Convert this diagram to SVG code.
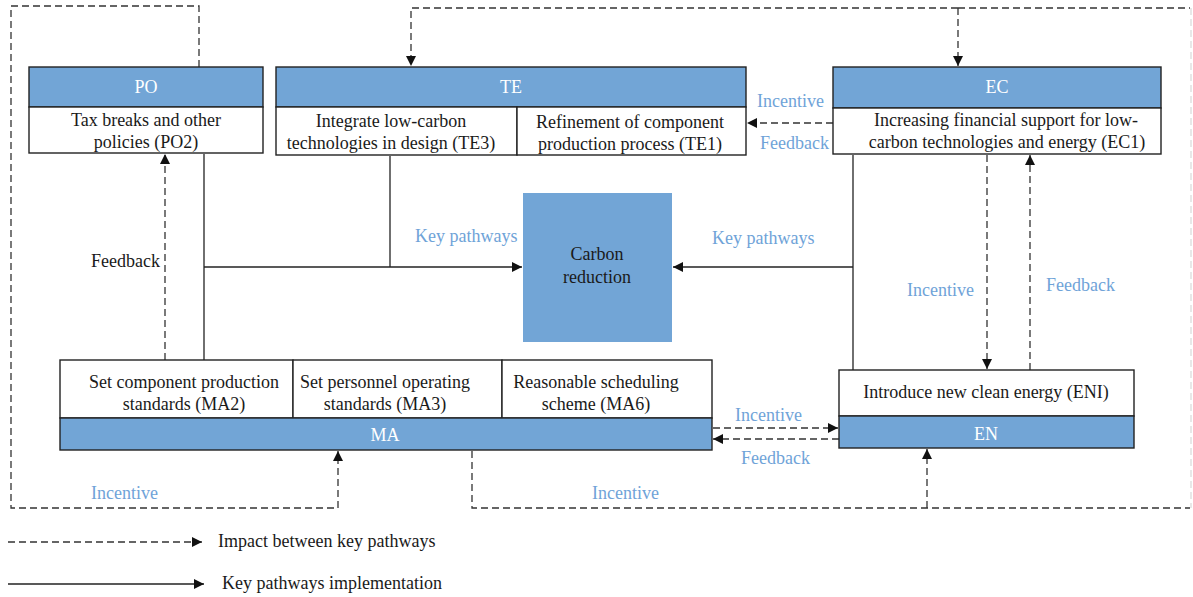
<svg xmlns="http://www.w3.org/2000/svg" width="1193" height="597" viewBox="0 0 1193 597">
  <style>
    text { font-family: "Liberation Serif", "Times New Roman", serif; font-size: 18px; fill: #1a1a1a; }
    .c { text-anchor: middle; }
    .hd { fill: #ffffff; }
    .lb { fill: #6fa3d8; }
    .head { fill: #72a5d6; stroke: #222; stroke-width: 1.4; }
    .body { fill: #ffffff; stroke: #222; stroke-width: 1.4; }
    .solid { fill: none; stroke: #222; stroke-width: 1.3; }
    .dash { fill: none; stroke: #333; stroke-width: 1.3; stroke-dasharray: 7 4; }
    .faint { fill: none; stroke: #dcdcdc; stroke-width: 1.3; stroke-dasharray: 7 4; }
  </style>
  <defs>
    <marker id="arr" viewBox="0 0 10 10" refX="10" refY="5" markerWidth="10" markerHeight="10" markerUnits="userSpaceOnUse" orient="auto">
      <path d="M0,0 L10,5 L0,10 Z" fill="#111"/>
    </marker>
  </defs>

  <rect width="1193" height="597" fill="#ffffff"/>

  <!-- connectors -->
  <g id="connectors">
    <!-- outer policy loop into MA -->
    <polyline class="dash" points="199,67 199,6 11,6 11,508 338,508 338,451" marker-end="url(#arr)"/>
    <!-- top bus into TE and EC -->
    <polyline class="dash" points="958,8 411,8 411,66" marker-end="url(#arr)"/>
    <polyline class="dash" points="958,8 1190,8"/>
    <line class="dash" x1="958" y1="8" x2="958" y2="66" marker-end="url(#arr)"/>
    <line class="faint" x1="1191" y1="8" x2="1191" y2="508"/>
    <!-- bottom bus from MA into EN -->
    <polyline class="dash" points="472,451 472,508 1190,508"/>
    <line class="dash" x1="927" y1="508" x2="927" y2="449" marker-end="url(#arr)"/>
    <!-- EC to TE -->
    <line class="dash" x1="833" y1="123" x2="747" y2="123" marker-end="url(#arr)"/>
    <!-- MA2 feedback to PO -->
    <line class="dash" x1="165" y1="360" x2="165" y2="154" marker-end="url(#arr)"/>
    <!-- key pathways into carbon reduction -->
    <line class="solid" x1="204" y1="154" x2="204" y2="360"/>
    <line class="solid" x1="390" y1="156" x2="390" y2="267"/>
    <line class="solid" x1="204" y1="267" x2="522" y2="267" marker-end="url(#arr)"/>
    <line class="solid" x1="853" y1="155" x2="853" y2="370"/>
    <line class="solid" x1="853" y1="267" x2="673" y2="267" marker-end="url(#arr)"/>
    <!-- EC <-> EN -->
    <line class="dash" x1="987" y1="155" x2="987" y2="369" marker-end="url(#arr)"/>
    <line class="dash" x1="1030" y1="370" x2="1030" y2="155" marker-end="url(#arr)"/>
    <!-- MA <-> EN -->
    <line class="dash" x1="713" y1="428" x2="838" y2="428" marker-end="url(#arr)"/>
    <line class="dash" x1="839" y1="439" x2="713" y2="439" marker-end="url(#arr)"/>
    <!-- legend -->
    <line class="dash" x1="8" y1="542" x2="202" y2="542" marker-end="url(#arr)"/>
    <line class="solid" x1="8" y1="584" x2="204" y2="584" marker-end="url(#arr)"/>
  </g>

  <!-- connector labels -->
  <g id="labels">
    <text class="lb" x="757" y="107">Incentive</text>
    <text class="lb" x="760" y="149">Feedback</text>
    <text class="lb" x="415" y="242">Key pathways</text>
    <text class="lb" x="712" y="244">Key pathways</text>
    <text x="91" y="267">Feedback</text>
    <text class="lb" x="907" y="296">Incentive</text>
    <text class="lb" x="1046" y="291">Feedback</text>
    <text class="lb" x="735" y="421">Incentive</text>
    <text class="lb" x="741" y="464">Feedback</text>
    <text class="lb" x="91" y="499">Incentive</text>
    <text class="lb" x="592" y="499">Incentive</text>
  </g>

  <!-- PO -->
  <g id="node-po">
    <rect class="head" x="29" y="67" width="234" height="40"/>
    <rect class="body" x="29" y="107" width="234" height="46"/>
    <text class="c hd" x="146" y="93">PO</text>
    <text class="c" x="146" y="126">Tax breaks and other</text>
    <text class="c" x="146" y="148">policies (PO2)</text>
  </g>

  <!-- TE -->
  <g id="node-te">
    <rect class="head" x="276" y="67" width="470" height="40"/>
    <rect class="body" x="276" y="107" width="241" height="48"/>
    <rect class="body" x="517" y="107" width="229" height="48"/>
    <text class="c hd" x="511" y="93">TE</text>
    <text class="c" x="391" y="127">Integrate low-carbon</text>
    <text class="c" x="391" y="149">technologies in design (TE3)</text>
    <text class="c" x="630" y="128">Refinement of component</text>
    <text class="c" x="630" y="150">production process (TE1)</text>
  </g>

  <!-- EC -->
  <g id="node-ec">
    <rect class="head" x="833" y="67" width="328" height="41"/>
    <rect class="body" x="833" y="108" width="328" height="46"/>
    <text class="c hd" x="997" y="93">EC</text>
    <text class="c" x="1006" y="126">Increasing financial support for low-</text>
    <text class="c" x="1007" y="148">carbon technologies and energy (EC1)</text>
  </g>

  <!-- Carbon reduction -->
  <g id="node-carbon">
    <rect x="523" y="193" width="149" height="149" fill="#72a5d6"/>
    <text class="c" x="597" y="260">Carbon</text>
    <text class="c" x="597" y="283">reduction</text>
  </g>

  <!-- MA -->
  <g id="node-ma">
    <rect class="body" x="60" y="360" width="233" height="58"/>
    <rect class="body" x="293" y="360" width="209" height="58"/>
    <rect class="body" x="502" y="360" width="210" height="58"/>
    <rect class="head" x="60" y="418" width="652" height="32"/>
    <text class="c" x="184" y="388">Set component production</text>
    <text class="c" x="184" y="410">standards (MA2)</text>
    <text class="c" x="385" y="388">Set personnel operating</text>
    <text class="c" x="385" y="410">standards (MA3)</text>
    <text class="c" x="596" y="388">Reasonable scheduling</text>
    <text class="c" x="596" y="410">scheme (MA6)</text>
    <text class="c hd" x="385" y="441">MA</text>
  </g>

  <!-- EN -->
  <g id="node-en">
    <rect class="body" x="839" y="370" width="295" height="46"/>
    <rect class="head" x="839" y="416" width="295" height="32"/>
    <text class="c" x="986" y="398">Introduce new clean energy (ENI)</text>
    <text class="c hd" x="986" y="440">EN</text>
  </g>

  <!-- legend -->
  <g id="legend">
    <text x="218" y="547">Impact between key pathways</text>
    <text x="222" y="589">Key pathways implementation</text>
  </g>
</svg>
